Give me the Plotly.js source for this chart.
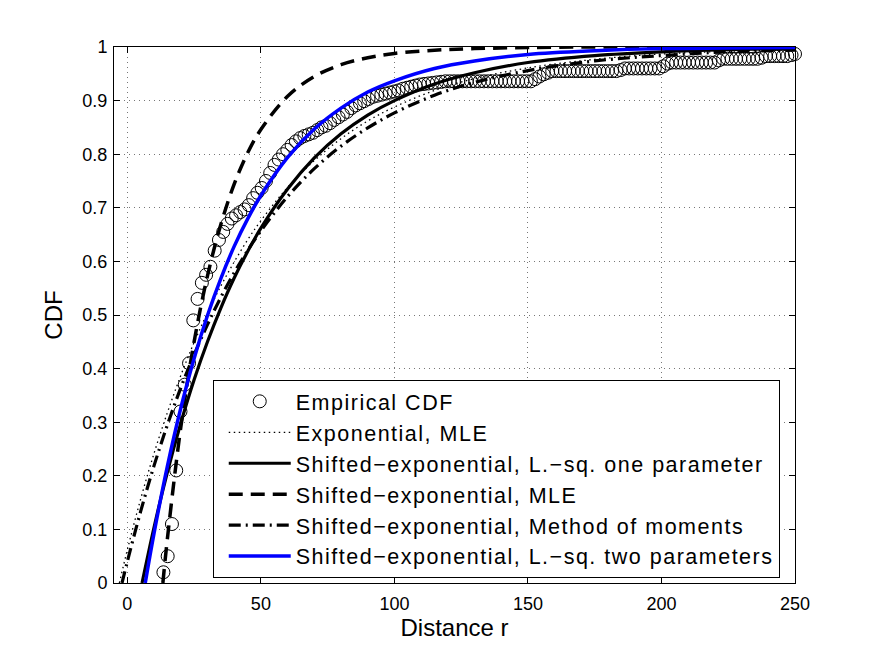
<!DOCTYPE html>
<html>
<head>
<meta charset="utf-8">
<script src="https://cdn.plot.ly/plotly-3.0.1.min.js"></script>
<style>html,body{margin:0;padding:0;background:#fff;}#chart{width:875px;height:659px;}
.legendtext{letter-spacing:1.5px;}</style>
</head>
<body>
<div id="chart"></div>
<script>
// Empirical CDF samples
const empX = [13.5,15.1,16.7,18.3,19.9,21.5,23.1,24.7,26.3,27.9,29.5,31.1,32.7,34.3,35.9,37.5,39.1,40.7,42.3,43.9,
  45.5,47.1,48.7,50.3,51.9,53.5,55.1,56.7,58.3,59.9,61.5,63.1,64.7,66.3,67.9,69.5,71.1,72.7,74.3,75.9,
  77.5,79.1,80.7,82.3,83.9,85.5,87.1,88.7,90.3,91.9,93.5,95.1,96.7,98.3,99.9,101.5,103.1,104.7,106.3,107.9,
  109.5,111.1,112.7,114.3,115.9,117.5,119.1,120.7,122.3,123.9,125.5,127.1,128.7,130.3,131.9,133.5,135.1,136.7,138.3,139.9,
  141.5,143.1,144.7,146.3,147.9,149.5,151.1,152.7,154.3,155.9,157.5,159.1,160.7,162.3,163.9,165.5,167.1,168.7,170.3,171.9,
  173.5,175.1,176.7,178.3,179.9,181.5,183.1,184.7,186.3,187.9,189.5,191.1,192.7,194.3,195.9,197.5,199.1,200.7,202.3,203.9,
  205.5,207.1,208.7,210.3,211.9,213.5,215.1,216.7,218.3,219.9,221.5,223.1,224.7,226.3,227.9,229.5,231.1,232.7,234.3,235.9,
  237.5,239.1,240.7,242.3,243.9,245.5,247.1,248.7,250.0];
const empY = [0.02,0.05,0.11,0.21,0.32,0.37,0.41,0.49,0.53,0.56,0.575,0.59,0.62,0.64,0.655,0.67,0.68,0.686,0.692,0.697,
  0.705,0.718,0.728,0.737,0.75,0.765,0.78,0.79,0.80,0.808,0.817,0.824,0.83,0.834,0.837,0.84,0.845,0.85,0.853,0.858,
  0.864,0.869,0.874,0.879,0.886,0.891,0.895,0.899,0.903,0.907,0.909,0.911,0.913,0.915,0.917,0.919,0.922,0.924,0.926,0.928,
  0.930,0.931,0.932,0.933,0.934,0.935,0.936,0.936,0.936,0.936,0.936,0.936,0.936,0.936,0.936,0.936,0.936,0.936,0.936,0.936,
  0.936,0.936,0.936,0.936,0.936,0.936,0.936,0.94,0.945,0.949,0.952,0.955,0.955,0.955,0.955,0.955,0.955,0.955,0.955,0.955,
  0.955,0.955,0.955,0.955,0.955,0.955,0.955,0.957,0.96,0.96,0.96,0.96,0.96,0.96,0.96,0.96,0.96,0.964,0.969,0.971,
  0.971,0.971,0.971,0.971,0.971,0.971,0.971,0.971,0.971,0.971,0.975,0.978,0.978,0.978,0.978,0.978,0.978,0.978,0.978,0.978,
  0.98,0.983,0.983,0.983,0.983,0.983,0.983,0.985,0.987];

// Exponential, MLE (dotted)
const expMleX = [-3,0,5,10,15,20,25,30,35,40,45,50,60,70,80,90,100,115,130,150,175,200,225,250];
const expMleY = [0,0.062,0.157,0.242,0.318,0.387,0.449,0.504,0.554,0.599,0.640,0.676,0.738,0.788,0.829,0.862,0.888,0.919,0.941,0.961,0.977,0.987,0.992,0.995];

// Shifted-exponential, L.-sq. one parameter (solid black)
const ls1X = [5.5,10,15,20,25,30,35,40,45,50,60,70,80,90,100,115,130,150,175,200,225,250];
const ls1Y = [0,0.104,0.207,0.298,0.379,0.450,0.513,0.569,0.618,0.662,0.735,0.793,0.838,0.873,0.900,0.931,0.952,0.971,0.984,0.991,0.995,0.997];

// Shifted-exponential, MLE (dashed)
const smleX = [13.3,15,20,25,30,35,40,45,50,60,70,80,90,100,115,130,150,175,200,250];
const smleY = [0,0.083,0.290,0.450,0.573,0.669,0.744,0.802,0.846,0.908,0.945,0.967,0.980,0.988,0.994,0.997,0.999,1.0,1.0,1.0];

// Shifted-exponential, Method of moments (dash-dot)
const momX = [-2,0,5,10,15,20,25,30,35,40,45,50,60,70,80,90,100,115,130,150,175,200,225,250];
const momY = [0,0.040,0.134,0.219,0.295,0.364,0.426,0.482,0.533,0.579,0.620,0.657,0.721,0.773,0.815,0.849,0.877,0.910,0.934,0.956,0.974,0.984,0.991,0.994];

// Shifted-exponential, L.-sq. two parameters (blue)
const ls2X = [6.7,10,15,20,25,30,35,40,45,50,60,70,80,90,100,115,130,150,175,200,225,250];
const ls2Y = [0,0.093,0.218,0.326,0.419,0.499,0.568,0.628,0.679,0.723,0.794,0.847,0.886,0.916,0.937,0.960,0.974,0.986,0.993,0.997,0.998,0.999];

const xTicks = [0,50,100,150,200,250];
const yTicks = [0,0.1,0.2,0.3,0.4,0.5,0.6,0.7,0.8,0.9,1];
const yTickText = ['0','0.1','0.2','0.3','0.4','0.5','0.6','0.7','0.8','0.9','1'];

const names = ['Empirical CDF','Exponential, MLE','Shifted\u2212exponential, L.\u2212sq. one parameter',
  'Shifted\u2212exponential, MLE','Shifted\u2212exponential, Method of moments','Shifted\u2212exponential, L.\u2212sq. two parameters'];

const traces = [
  {x: empX, y: empY, mode: 'markers', name: names[0],
   marker: {symbol: 'circle-open', size: 13, color: '#000', line: {width: 1, color:'#000'}}, cliponaxis: false},
  {x: expMleX, y: expMleY, mode: 'lines', name: names[1], line: {color: '#000', width: 1.3, dash: '1.5px,3.5px', shape: 'spline'}},
  {x: ls1X, y: ls1Y, mode: 'lines', name: names[2], line: {color: '#000', width: 3.2, shape: 'spline'}},
  {x: smleX, y: smleY, mode: 'lines', name: names[3], line: {color: '#000', width: 3.5, dash: '14px,8px', shape: 'spline'}},
  {x: momX, y: momY, mode: 'lines', name: names[4], line: {color: '#000', width: 3.2, dash: '12px,5px,2px,5px', shape: 'spline'}},
  {x: ls2X, y: ls2Y, mode: 'lines', name: names[5], line: {color: '#0000ff', width: 3.5, shape: 'spline'}}
];

const font = {family: '"Liberation Sans", Arial, Helvetica, sans-serif', color: '#000'};

const layout = {
  width: 875, height: 659,
  paper_bgcolor: '#fff', plot_bgcolor: '#fff',
  margin: {l: 114, r: 80, t: 47, b: 76},
  font: Object.assign({size: 18}, font),
  showlegend: true,
  xaxis: {
    range: [-5, 250], tickvals: xTicks, ticktext: xTicks.map(String),
    ticks: 'inside', ticklen: 6, tickcolor: '#000', mirror: 'ticks',
    showline: true, linecolor: '#000', linewidth: 1,
    showgrid: true, gridcolor: '#777', griddash: '1px,4px', gridwidth: 1,
    zeroline: false, tickfont: Object.assign({size: 18}, font), ticklabelstandoff: 4,
    title: {text: 'Distance r', font: Object.assign({size: 24}, font), standoff: 6}
  },
  yaxis: {
    range: [0, 1], tickvals: yTicks, ticktext: yTickText,
    ticks: 'inside', ticklen: 6, tickcolor: '#000', mirror: 'ticks',
    showline: true, linecolor: '#000', linewidth: 1,
    showgrid: true, gridcolor: '#777', griddash: '1px,4px', gridwidth: 1,
    zeroline: false, tickfont: Object.assign({size: 18}, font), ticklabelstandoff: 2,
    title: {text: 'CDF', font: Object.assign({size: 24}, font), standoff: 12}
  },
  legend: {
    x: 0.145, y: 0.379, xanchor: 'left', yanchor: 'top',
    bgcolor: '#fff', bordercolor: '#000', borderwidth: 1,
    font: Object.assign({size: 21.5}, font),
    itemwidth: 62, indentation: 10, traceorder: 'normal'
  }
};

Plotly.newPlot('chart', traces, layout, {displayModeBar: false, staticPlot: true});
</script>
</body>
</html>
